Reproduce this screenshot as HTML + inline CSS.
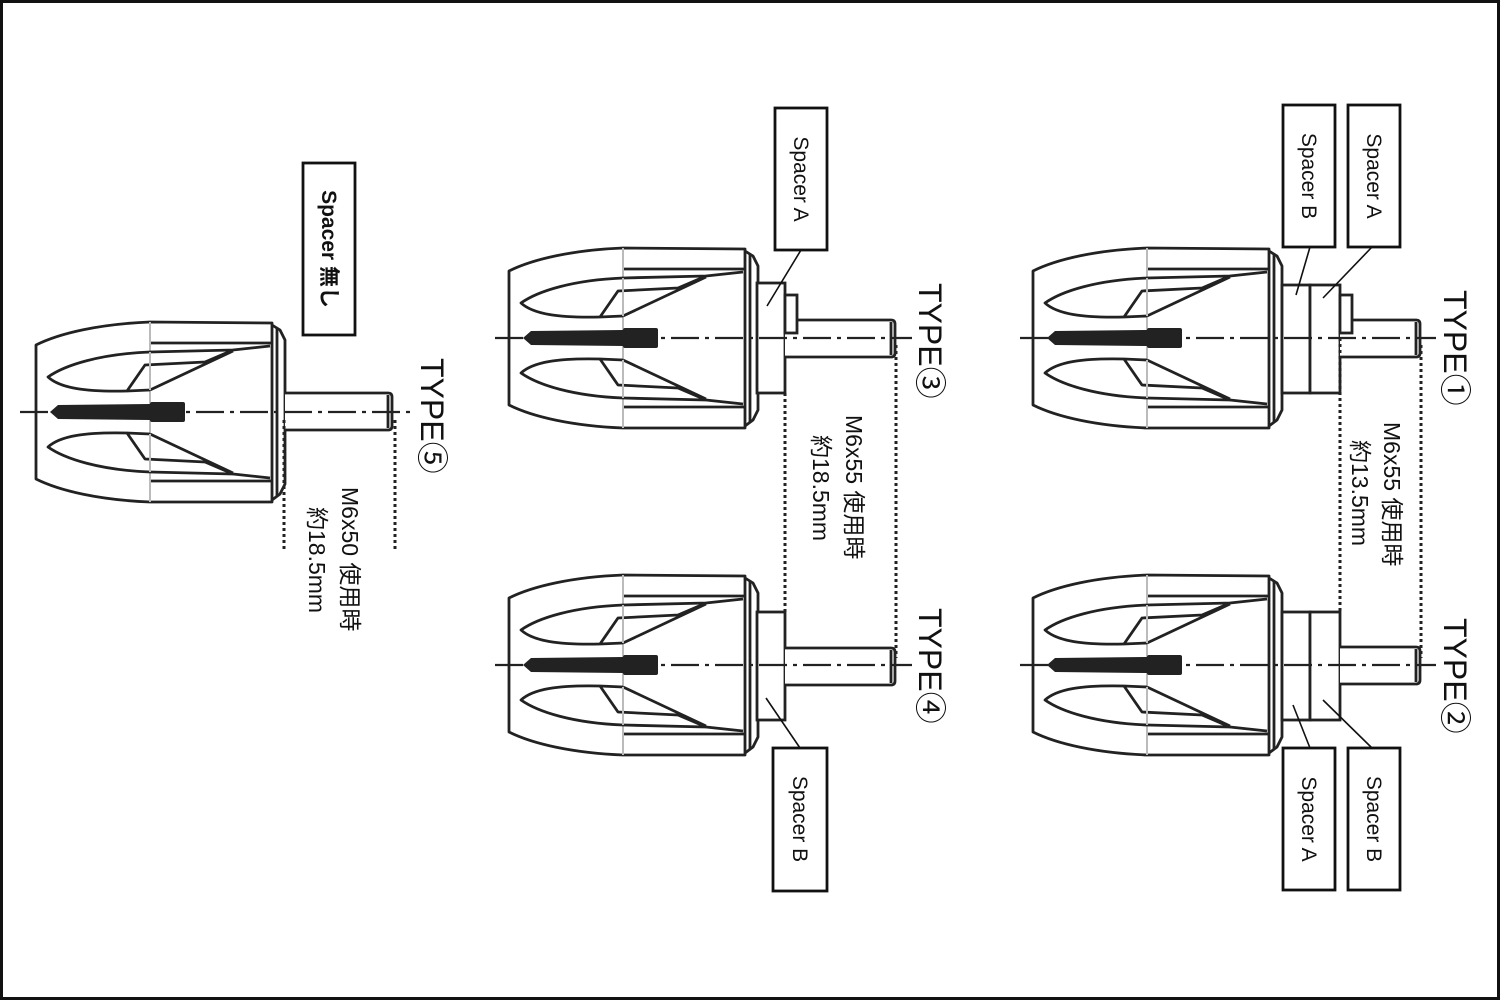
<!DOCTYPE html>
<html><head><meta charset="utf-8"><style>
html,body{margin:0;padding:0;background:#fff;}
svg{display:block;}
text{font-family:"Liberation Sans","Noto Sans CJK JP",sans-serif;fill:#111;}
</style></head><body>
<svg width="1500" height="1000" viewBox="0 0 1500 1000" xmlns="http://www.w3.org/2000/svg">
<defs>
<g id="body" fill="none" stroke="#222" stroke-width="2.8" stroke-linejoin="round">
  <path d="M272,323 L150,322 C100,324 60,333 36,345 L36,479 C60,491 100,500 150,502 L272,502 Z" fill="#fff"/>
  <path d="M272,325 L280,330 L285,340 L285,484 L280,494 L272,500"/>
  <line x1="277" y1="328" x2="277" y2="496"/>
  <line x1="150" y1="343" x2="272" y2="343"/>
  <line x1="150" y1="481" x2="272" y2="481"/>
  <line x1="150" y1="322" x2="150" y2="502" stroke="#bbb" stroke-width="2"/>
  <path d="M270,346 L233,350 L150,352 C100,354 65,365 48,377 C60,388 85,392 127,391 L150,390"/>
  <path d="M127,391 L145,365 L205,362 L233,350"/>
  <path d="M150,390 L233,351"/>
  <line x1="150" y1="352" x2="150" y2="390" stroke="#bbb" stroke-width="2"/>
  <path d="M270,478 L233,474 L150,472 C100,470 65,459 48,447 C60,436 85,432 127,433 L150,434"/>
  <path d="M127,433 L145,459 L205,462 L233,474"/>
  <path d="M150,434 L233,473"/>
  <line x1="150" y1="434" x2="150" y2="472" stroke="#bbb" stroke-width="2"/>
  <path d="M50,412 L58,405 L150,404 L150,420 L58,419 Z" fill="#222" stroke="none"/>
  <rect x="150" y="402" width="35" height="20" fill="#222" stroke="none" rx="2"/>
</g>
</defs>
<rect x="1.5" y="1.5" width="1497" height="997" fill="#fff" stroke="#111" stroke-width="3"/>

<use href="#body"/>
<use href="#body" transform="translate(997,-74)"/>
<use href="#body" transform="translate(997,253)"/>
<use href="#body" transform="translate(473,-74)"/>
<use href="#body" transform="translate(473,253)"/>

<g fill="#fff" stroke="#222" stroke-width="2.8">
  <path d="M285,393 L388,393 Q392,393 392,397 L392,426 Q392,430 388,430 L285,430"/>
  <line x1="388" y1="395" x2="388" y2="428"/>
  <rect x="1282" y="285" width="28" height="108"/>
  <rect x="1310" y="285" width="30" height="108"/>
  <path d="M1340,320 L1416,320 Q1420,320 1420,324 L1420,353 Q1420,357 1416,357 L1340,357"/>
  <line x1="1416" y1="322" x2="1416" y2="355"/>
  <rect x="1340" y="295" width="12" height="38"/>
  <rect x="1282" y="612" width="28" height="108"/>
  <rect x="1310" y="612" width="30" height="108"/>
  <path d="M1340,647 L1416,647 Q1420,647 1420,651 L1420,680 Q1420,684 1416,684 L1340,684"/>
  <line x1="1416" y1="649" x2="1416" y2="682"/>
  <rect x="757" y="283" width="28" height="110"/>
  <path d="M785,320 L891,320 Q895,320 895,324 L895,353 Q895,357 891,357 L785,357"/>
  <line x1="891" y1="322" x2="891" y2="355"/>
  <rect x="785" y="295" width="12" height="38"/>
  <rect x="757" y="612" width="28" height="108"/>
  <path d="M785,648 L891,648 Q895,648 895,652 L895,681 Q895,685 891,685 L785,685"/>
  <line x1="891" y1="650" x2="891" y2="683"/>
</g>

<g stroke="#222" stroke-width="2.2" stroke-dasharray="28,6,4,6">
  <line x1="20" y1="412" x2="410" y2="412"/>
  <line x1="1020" y1="338" x2="1436" y2="338"/>
  <line x1="1020" y1="665" x2="1436" y2="665"/>
  <line x1="495" y1="338" x2="912" y2="338"/>
  <line x1="495" y1="665" x2="912" y2="665"/>
</g>

<g stroke="#222" stroke-width="3" stroke-dasharray="3,3">
  <line x1="284" y1="420" x2="284" y2="550"/>
  <line x1="395" y1="420" x2="395" y2="550"/>
  <line x1="1340" y1="338" x2="1340" y2="612"/>
  <line x1="1421" y1="345" x2="1421" y2="658"/>
  <line x1="785" y1="393" x2="785" y2="612"/>
  <line x1="896" y1="345" x2="896" y2="658"/>
</g>

<g fill="#fff" stroke="#111" stroke-width="2.8">
  <rect x="1283" y="105" width="52" height="142"/>
  <rect x="1348" y="105" width="52" height="142"/>
  <rect x="1283" y="748" width="52" height="142"/>
  <rect x="1348" y="748" width="52" height="142"/>
  <rect x="775" y="108" width="52" height="142"/>
  <rect x="773" y="748" width="54" height="143"/>
  <rect x="303" y="163" width="52" height="172"/>
</g>
<g stroke="#111" stroke-width="1.6">
  <line x1="1296" y1="295" x2="1310" y2="247"/>
  <line x1="1323" y1="298" x2="1372" y2="247"/>
  <line x1="1293" y1="705" x2="1310" y2="748"/>
  <line x1="1323" y1="700" x2="1372" y2="748"/>
  <line x1="767" y1="306" x2="801" y2="250"/>
  <line x1="766" y1="698" x2="800" y2="748"/>
</g>

<g font-size="21" text-anchor="middle">
  <text transform="translate(1302,176) rotate(90)">Spacer B</text>
  <text transform="translate(1367,176) rotate(90)">Spacer A</text>
  <text transform="translate(1302,819) rotate(90)">Spacer A</text>
  <text transform="translate(1367,819) rotate(90)">Spacer B</text>
  <text transform="translate(794,179) rotate(90)">Spacer A</text>
  <text transform="translate(793,819) rotate(90)">Spacer B</text>
  <text transform="translate(322,249) rotate(90)" font-weight="bold">Spacer 無し</text>
</g>

<g font-size="32">
  <text transform="translate(1444,290) rotate(90)">TYPE①</text>
  <text transform="translate(1444,618) rotate(90)">TYPE②</text>
  <text transform="translate(919,283) rotate(90)">TYPE③</text>
  <text transform="translate(919,608) rotate(90)">TYPE④</text>
  <text transform="translate(421,358) rotate(90)">TYPE⑤</text>
</g>

<g font-size="23">
  <text transform="translate(1384,422) rotate(90)">M6x55 使用時</text>
  <text transform="translate(1352,440) rotate(90)">約13.5mm</text>
  <text transform="translate(846,415) rotate(90)">M6x55 使用時</text>
  <text transform="translate(813,435) rotate(90)">約18.5mm</text>
  <text transform="translate(342,487) rotate(90)">M6x50 使用時</text>
  <text transform="translate(309,507) rotate(90)">約18.5mm</text>
</g>
</svg>
</body></html>
